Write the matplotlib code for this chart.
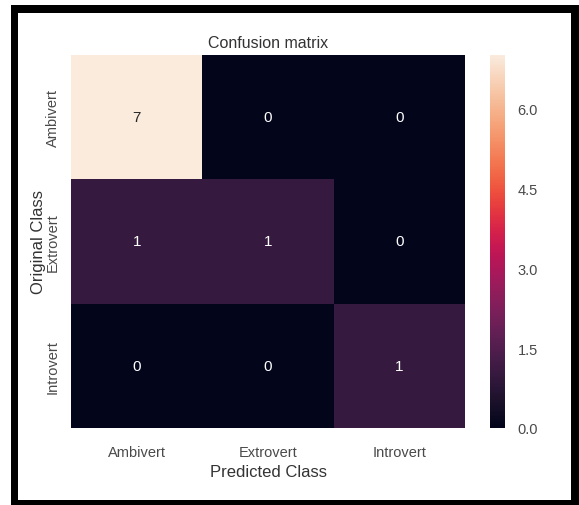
import matplotlib
matplotlib.use("Agg")
import matplotlib.pyplot as plt
from matplotlib.patches import Rectangle
import numpy as np
import seaborn as sns

classes = ["Ambivert", "Extrovert", "Introvert"]
matrix = np.array([
    [7, 0, 0],
    [1, 1, 0],
    [0, 0, 1],
])
cbar_ticks = [0.0, 1.5, 3.0, 4.5, 6.0]

plt.rcParams["font.family"] = ["Liberation Sans", "DejaVu Sans"]
grey = "#4a4a4a"

W, H = 579, 506
fig = plt.figure(figsize=(W / 100, H / 100), dpi=100)

ax = fig.add_axes([71 / W, 1 - 429 / H, 394 / W, 373 / H])
cax = fig.add_axes([490 / W, 1 - 429 / H, 15 / W, 373 / H])

sns.heatmap(matrix, annot=True, fmt="d", cmap="rocket", ax=ax, cbar_ax=cax,
            xticklabels=classes, yticklabels=classes,
            annot_kws={"fontsize": 11})

ax.set_title("Confusion matrix", fontsize=11.5, color="#333333", pad=6)
ax.set_xlabel("Predicted Class", fontsize=12, color="#333333", labelpad=4)
ax.set_ylabel("Original Class", fontsize=12, color="#333333", labelpad=0)
ax.tick_params(axis="x", length=0, labelsize=10.5, labelcolor=grey, pad=12)
ax.tick_params(axis="y", length=0, labelsize=10.5, labelcolor=grey, pad=8)
plt.setp(ax.get_yticklabels(), rotation=90, va="center")

cax.set_yticks(cbar_ticks)
cax.set_yticklabels([f"{t:.1f}" for t in cbar_ticks])
cax.tick_params(length=0, labelsize=10.5, labelcolor=grey, pad=9)
for s in cax.spines.values():
    s.set_visible(False)

# black frame round the picture
fig.patches.append(Rectangle((11 / W, 0), 1 - 11 / W, 1 - 6 / H,
                             transform=fig.transFigure, facecolor="black",
                             edgecolor="none", zorder=-2))
fig.patches.append(Rectangle((18 / W, 1 - 501 / H), (571 - 18) / W, (501 - 14) / H,
                             transform=fig.transFigure, facecolor="white",
                             edgecolor="none", zorder=-1))

fig.savefig("out.png", dpi=100)
